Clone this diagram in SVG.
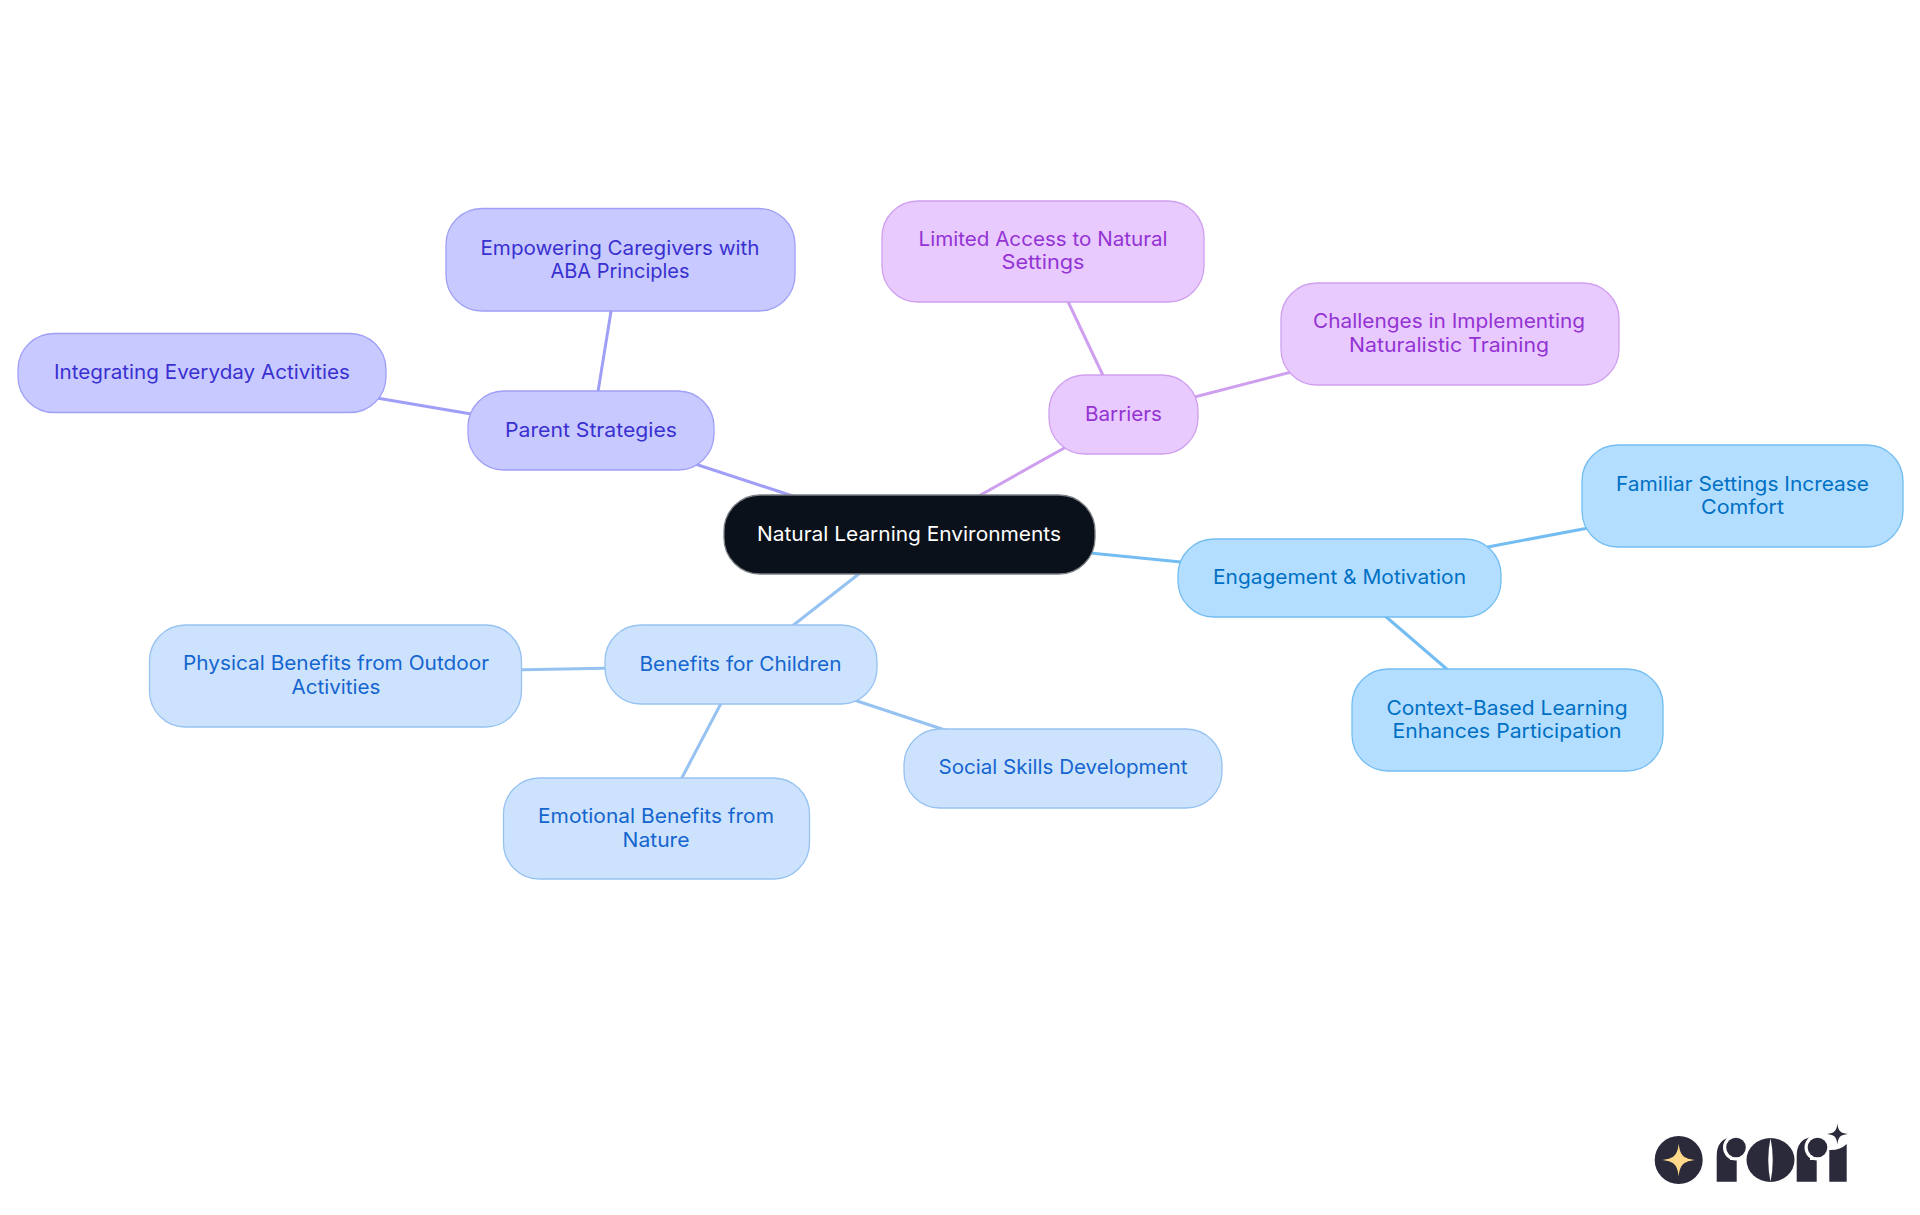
<svg xmlns="http://www.w3.org/2000/svg" width="1920" height="1215" viewBox="0 0 1920 1215">
<style>
text{font-family:"Inter","Noto Sans","Liberation Sans",sans-serif;font-size:20px;text-anchor:middle}
.n{stroke-width:1.3}
.c{fill:#0b111a;stroke:#7b7f85}.c+text{fill:#fff}
.p rect{fill:#c8caff;stroke:#a09ff7}.p text{fill:#3a30d0}
.b rect{fill:#e9caff;stroke:#cf9fef}.b text{fill:#9333d3}
.e rect{fill:#b3deff;stroke:#74bdf2}.e text{fill:#0070c4}
.f rect{fill:#cde3fd;stroke:#96c2f2}.f text{fill:#1565cf}
#connectors line{stroke-width:3;fill:none}
.lp{stroke:#a09ff7}.lb{stroke:#cf9fef}.le{stroke:#74bdf2}.lf{stroke:#96c2f2}
.d{fill:#2a2a3a}.w{fill:#fff}
</style>
<rect width="1920" height="1215" fill="#fff"/>
<g id="connectors">
<line class="lp" x1="683" y1="460" x2="805" y2="500"/>
<line class="lp" x1="613" y1="299" x2="596" y2="404"/>
<line class="lp" x1="365" y1="396" x2="483" y2="416"/>
<line class="lb" x1="1075" y1="442" x2="968" y2="502"/>
<line class="lb" x1="1063" y1="291" x2="1108" y2="386"/>
<line class="lb" x1="1303" y1="369" x2="1183" y2="400"/>
<line class="le" x1="1080" y1="552" x2="1191" y2="563"/>
<line class="le" x1="1599" y1="526" x2="1477" y2="549"/>
<line class="le" x1="1456" y1="677" x2="1377" y2="609"/>
<line class="lf" x1="869" y1="566" x2="782" y2="634"/>
<line class="lf" x1="510" y1="670" x2="617" y2="668"/>
<line class="lf" x1="676" y1="789" x2="727" y2="692"/>
<line class="lf" x1="954" y1="733" x2="842" y2="696"/>
</g>
<g id="node-root"><rect class="n c" x="724" y="495" width="371" height="79" rx="36"/><text x="909" y="541" textLength="304" lengthAdjust="spacingAndGlyphs">Natural Learning Environments</text></g>
<g id="node-parent" class="p"><rect class="n" x="468" y="391" width="246" height="79" rx="36"/><text x="591" y="437" textLength="172" lengthAdjust="spacingAndGlyphs">Parent Strategies</text></g>
<g id="node-empowering" class="p"><rect class="n" x="446" y="208.500" width="349" height="102.500" rx="36"/><text x="620" y="254.500" textLength="279" lengthAdjust="spacingAndGlyphs">Empowering Caregivers with</text><text x="620" y="278" textLength="139" lengthAdjust="spacingAndGlyphs">ABA Principles</text></g>
<g id="node-integrating" class="p"><rect class="n" x="18" y="333.500" width="368" height="79" rx="36"/><text x="202" y="379" textLength="296" lengthAdjust="spacingAndGlyphs">Integrating Everyday Activities</text></g>
<g id="node-barriers" class="b"><rect class="n" x="1049" y="375" width="149" height="79" rx="36"/><text x="1123.500" y="421" textLength="77" lengthAdjust="spacingAndGlyphs">Barriers</text></g>
<g id="node-limited" class="b"><rect class="n" x="882" y="201" width="322" height="101" rx="36"/><text x="1043" y="246" textLength="249" lengthAdjust="spacingAndGlyphs">Limited Access to Natural</text><text x="1043" y="269" textLength="83" lengthAdjust="spacingAndGlyphs">Settings</text></g>
<g id="node-challenges" class="b"><rect class="n" x="1281" y="283" width="338" height="102" rx="36"/><text x="1449" y="328" textLength="272" lengthAdjust="spacingAndGlyphs">Challenges in Implementing</text><text x="1449" y="352" textLength="200" lengthAdjust="spacingAndGlyphs">Naturalistic Training</text></g>
<g id="node-engagement" class="e"><rect class="n" x="1178" y="539" width="323" height="78" rx="36"/><text x="1339.500" y="584" textLength="253" lengthAdjust="spacingAndGlyphs">Engagement &amp; Motivation</text></g>
<g id="node-familiar" class="e"><rect class="n" x="1582" y="445" width="321" height="102" rx="36"/><text x="1742.500" y="491" textLength="253" lengthAdjust="spacingAndGlyphs">Familiar Settings Increase</text><text x="1742.500" y="514" textLength="83" lengthAdjust="spacingAndGlyphs">Comfort</text></g>
<g id="node-context" class="e"><rect class="n" x="1352" y="669" width="311" height="102" rx="36"/><text x="1507" y="715" textLength="241" lengthAdjust="spacingAndGlyphs">Context-Based Learning</text><text x="1507" y="738" textLength="229" lengthAdjust="spacingAndGlyphs">Enhances Participation</text></g>
<g id="node-benefits" class="f"><rect class="n" x="605" y="625" width="272" height="79" rx="36"/><text x="740.500" y="670.500" textLength="202" lengthAdjust="spacingAndGlyphs">Benefits for Children</text></g>
<g id="node-physical" class="f"><rect class="n" x="149.500" y="625" width="372" height="102" rx="36"/><text x="336" y="670" textLength="306" lengthAdjust="spacingAndGlyphs">Physical Benefits from Outdoor</text><text x="336" y="694" textLength="89" lengthAdjust="spacingAndGlyphs">Activities</text></g>
<g id="node-emotional" class="f"><rect class="n" x="503.500" y="778" width="306" height="101" rx="36"/><text x="656" y="823" textLength="236" lengthAdjust="spacingAndGlyphs">Emotional Benefits from</text><text x="656" y="847" textLength="67" lengthAdjust="spacingAndGlyphs">Nature</text></g>
<g id="node-social" class="f"><rect class="n" x="904" y="729" width="318" height="79" rx="36"/><text x="1063" y="774" textLength="249" lengthAdjust="spacingAndGlyphs">Social Skills Development</text></g>
<g id="logo">
<circle class="d" cx="1678.700" cy="1160" r="24"/>
<path d="M1678.700 1143.500C1680 1155 1683 1158.500 1695.300 1160C1683 1161.500 1680 1165 1678.700 1176.500C1677.400 1165 1674.400 1161.500 1662 1160C1674.400 1158.500 1677.400 1155 1678.700 1143.500Z" fill="#ffd88a"/>
<path class="d" d="M1716.700 1181.700V1156Q1716.700 1140 1730 1137.500V1160H1736.700V1181.700Z"/>
<circle class="w" cx="1736" cy="1147.500" r="13"/><circle class="d" cx="1736" cy="1147.500" r="9.800"/>
<ellipse class="d" cx="1770.500" cy="1160" rx="24" ry="22"/>
<path class="w" d="M1770.500 1138Q1766 1160 1770.500 1182Q1775 1160 1770.500 1138Z"/>
<path class="d" d="M1796.700 1181.700V1156Q1796.700 1140 1810 1137.500V1160H1816.700V1181.700Z"/>
<circle class="w" cx="1817.500" cy="1147.500" r="13"/><circle class="d" cx="1817.500" cy="1147.500" r="9.800"/>
<path class="d" d="M1829.300 1181.700V1150Q1840 1150.500 1846.700 1144V1181.700Z"/>
<path class="d" d="M1837.400 1123.300C1838.200 1131 1840 1133 1848 1134C1840 1135 1838.200 1137 1837.400 1144.700C1836.600 1137 1834.800 1135 1827 1134C1834.800 1133 1836.600 1131 1837.400 1123.300Z"/>
</g>
</svg>
